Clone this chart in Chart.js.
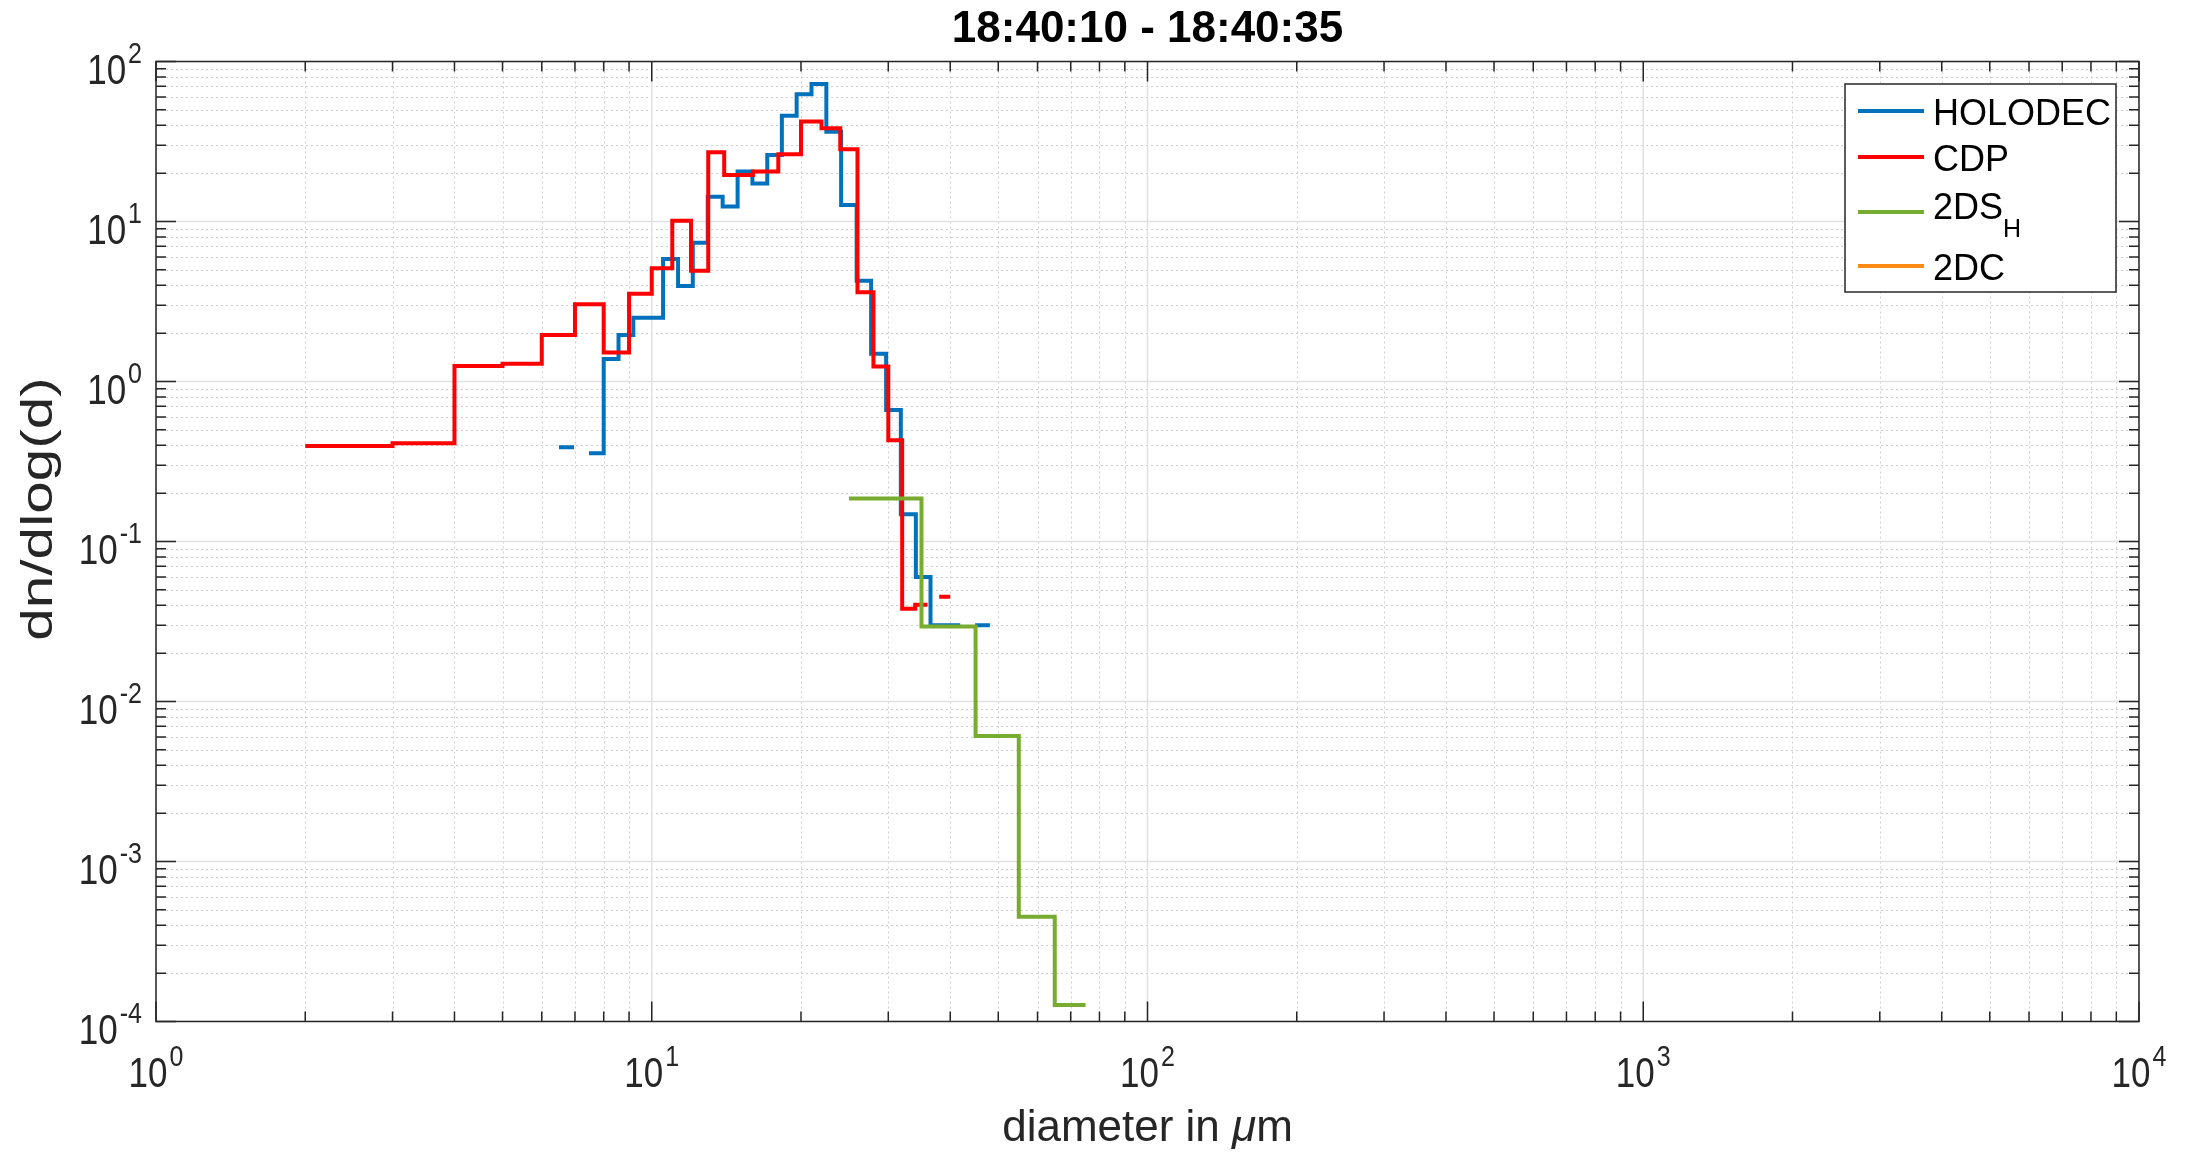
<!DOCTYPE html>
<html>
<head>
<meta charset="utf-8">
<script src="https://cdn.jsdelivr.net/npm/chart.js@4.4.1/dist/chart.umd.min.js"></script>
<style>
  html, body { margin: 0; padding: 0; background: #ffffff; }
  #wrap { position: relative; width: 2195px; height: 1152px; }
</style>
</head>
<body>
<div id="wrap"><canvas id="sizeDist" width="2195" height="1152"></canvas></div>
<script>
// Size distribution, 18:40:10 - 18:40:35
const titleText = '18:40:10 - 18:40:35';

// HOLODEC: bin edges (um) and dn/dlog(d) per bin (null = empty bin)
const holoEdges = [6.5, 6.97, 7.47, 8.0, 8.57, 9.18, 9.84, 10.54, 11.3, 12.1, 12.97, 13.9, 14.9, 15.96,
  17.1, 18.3, 19.6, 21.0, 22.5, 24.1, 25.9, 27.7, 29.7, 31.8, 34.1, 36.5, 39.1, 41.9, 44.9, 48.1];
const holoValues = [0.388, null, 0.356, 1.38, 1.95, 2.50, 2.50, 5.83, 3.95, 7.37, 14.3, 12.4, 20.5, 17.3,
  26.0, 45.8, 62.4, 72.3, 36.4, 12.7, 4.27, 1.49, 0.664, 0.148, 0.060, 0.030, 0.030, null, 0.030];

// CDP
const cdpEdges = [2, 3, 4, 5, 6, 7, 8, 9, 10, 11, 12, 13, 14, 16, 18, 20, 22, 24, 26, 28, 30, 32, 34, 36, 38, 40];
const cdpValues = [0.395, 0.411, 1.25, 1.29, 1.95, 3.04, 1.52, 3.53, 5.1, 10.1, 4.93, 27.1, 19.5, 20.5,
  26.3, 42.1, 38.2, 28.3, 3.61, 1.24, 0.43, 0.038, 0.0403, null, 0.0452];

// 2DS (horizontal channel)
const ds2Edges = [25, 35, 45, 55, 65, 75];
const ds2Values = [0.186, 0.0294, 0.00608, 0.000452, 0.000127];

// 2DC (no counts in this interval)
const dcEdges = [];
const dcValues = [];

// Axis decades
const xDecades = [0, 1, 2, 3, 4];
const yDecades = [-4, -3, -2, -1, 0, 1, 2];

const seriesNames = ['HOLODEC', 'CDP', '2DS', '2DC'];
const seriesColors = ['#0072bd', '#ff0000', '#77ac30', '#ff8a14'];

// Turn bins into a stepped outline: each bin is a flat segment, neighbours join vertically
function stepPoints(edges, values) {
  const pts = [];
  for (let i = 0; i < values.length; i++) {
    const v = values[i];
    if (v === null) { pts.push({ x: edges[i], y: null }); continue; }
    pts.push({ x: edges[i], y: v }, { x: edges[i + 1], y: v });
  }
  return pts;
}

const FONT = '"Liberation Sans", Arial, Helvetica, sans-serif';
const AXIS_COLOR = '#262626';
const TICK_STRETCH = 1.2;
const LINE_W = 4;

function tallText(ctx, text, x, y, stretch) {
  ctx.save();
  ctx.translate(x, y);
  ctx.scale(1, stretch);
  ctx.fillText(text, 0, 0);
  ctx.restore();
}

// "10" with a raised exponent
function drawPower(ctx, exp, x, baseY, align) {
  const base = '10';
  const sup = String(exp);
  ctx.font = '35px ' + FONT;
  const wb = ctx.measureText(base).width;
  ctx.font = '25px ' + FONT;
  const ws = ctx.measureText(sup).width;
  const total = wb + 2 + ws;
  const x0 = align === 'right' ? x - total : x - total / 2;
  ctx.fillStyle = AXIS_COLOR;
  ctx.textAlign = 'left';
  ctx.textBaseline = 'alphabetic';
  ctx.font = '35px ' + FONT;
  tallText(ctx, base, x0, baseY, TICK_STRETCH);
  ctx.font = '25px ' + FONT;
  tallText(ctx, sup, x0 + wb + 2, baseY - 21, TICK_STRETCH);
}

const axesBox = {
  id: 'axesBox',
  beforeDatasetsDraw(chart) {
    const { ctx, chartArea: a, scales: { x, y } } = chart;
    ctx.save();
    ctx.beginPath();
    ctx.rect(a.left, a.top, a.right - a.left, a.bottom - a.top);
    ctx.clip();
    // minor grid
    ctx.strokeStyle = '#cfcfcf';
    ctx.lineWidth = 1;
    ctx.setLineDash([2, 3]);
    for (const d of xDecades.slice(0, -1)) {
      for (let m = 2; m <= 9; m++) {
        const px = Math.round(x.getPixelForValue(m * Math.pow(10, d))) + 0.5;
        ctx.beginPath(); ctx.moveTo(px, a.top); ctx.lineTo(px, a.bottom); ctx.stroke();
      }
    }
    for (const d of yDecades.slice(0, -1)) {
      for (let m = 2; m <= 9; m++) {
        const py = Math.round(y.getPixelForValue(m * Math.pow(10, d))) + 0.5;
        ctx.beginPath(); ctx.moveTo(a.left, py); ctx.lineTo(a.right, py); ctx.stroke();
      }
    }
    // major grid
    ctx.setLineDash([]);
    ctx.strokeStyle = '#e1e1e1';
    ctx.lineWidth = 1.5;
    for (const d of xDecades) {
      const px = x.getPixelForValue(Math.pow(10, d));
      ctx.beginPath(); ctx.moveTo(px, a.top); ctx.lineTo(px, a.bottom); ctx.stroke();
    }
    for (const d of yDecades) {
      const py = y.getPixelForValue(Math.pow(10, d));
      ctx.beginPath(); ctx.moveTo(a.left, py); ctx.lineTo(a.right, py); ctx.stroke();
    }
    ctx.restore();
  },
  afterDatasetsDraw(chart) {
    const { ctx, chartArea: a, scales: { x, y } } = chart;
    ctx.save();
    // box and inward ticks on all four sides
    ctx.strokeStyle = AXIS_COLOR;
    ctx.lineWidth = 1.5;
    ctx.strokeRect(a.left, a.top, a.right - a.left, a.bottom - a.top);
    const major = 20, minor = 10;
    ctx.beginPath();
    for (let i = 0; i < xDecades.length; i++) {
      const d = xDecades[i];
      const px = x.getPixelForValue(Math.pow(10, d));
      ctx.moveTo(px, a.bottom); ctx.lineTo(px, a.bottom - major);
      ctx.moveTo(px, a.top); ctx.lineTo(px, a.top + major);
      if (i < xDecades.length - 1) {
        for (let m = 2; m <= 9; m++) {
          const q = x.getPixelForValue(m * Math.pow(10, d));
          ctx.moveTo(q, a.bottom); ctx.lineTo(q, a.bottom - minor);
          ctx.moveTo(q, a.top); ctx.lineTo(q, a.top + minor);
        }
      }
    }
    for (let i = 0; i < yDecades.length; i++) {
      const d = yDecades[i];
      const py = y.getPixelForValue(Math.pow(10, d));
      ctx.moveTo(a.left, py); ctx.lineTo(a.left + major, py);
      ctx.moveTo(a.right, py); ctx.lineTo(a.right - major, py);
      if (i < yDecades.length - 1) {
        for (let m = 2; m <= 9; m++) {
          const q = y.getPixelForValue(m * Math.pow(10, d));
          ctx.moveTo(a.left, q); ctx.lineTo(a.left + minor, q);
          ctx.moveTo(a.right, q); ctx.lineTo(a.right - minor, q);
        }
      }
    }
    ctx.stroke();

    // tick labels
    for (const d of xDecades) drawPower(ctx, d, x.getPixelForValue(Math.pow(10, d)), a.bottom + 65, 'center');
    for (const d of yDecades) drawPower(ctx, d, a.left - 14, y.getPixelForValue(Math.pow(10, d)) + 22.5, 'right');

    // axis titles
    ctx.fillStyle = AXIS_COLOR;
    ctx.textBaseline = 'alphabetic';
    ctx.font = '44px ' + FONT;
    const p1 = 'diameter in ', p3 = 'm';
    const w1 = ctx.measureText(p1).width, w3 = ctx.measureText(p3).width;
    ctx.font = 'italic 44px ' + FONT;
    const w2 = ctx.measureText('\u03bc').width;
    const sx = (a.left + a.right) / 2 - (w1 + w2 + w3) / 2;
    const by = a.bottom + 119;
    ctx.textAlign = 'left';
    ctx.font = '44px ' + FONT;
    ctx.fillText(p1, sx, by);
    ctx.font = 'italic 44px ' + FONT;
    ctx.fillText('\u03bc', sx + w1, by);
    ctx.font = '44px ' + FONT;
    ctx.fillText(p3, sx + w1 + w2, by);

    ctx.save();
    ctx.translate(52, 509);
    ctx.rotate(-Math.PI / 2);
    ctx.scale(1.33, 1);
    ctx.textAlign = 'center';
    ctx.fillText('dn/dlog(d)', 0, 0);
    ctx.restore();

    // title
    ctx.fillStyle = '#000000';
    ctx.font = 'bold 44px ' + FONT;
    ctx.textAlign = 'center';
    ctx.fillText(titleText, (a.left + a.right) / 2, 42);

    // legend
    const lx = 1845, ly = 84, lw = 271, lh = 208;
    ctx.fillStyle = '#ffffff';
    ctx.fillRect(lx, ly, lw, lh);
    ctx.strokeStyle = AXIS_COLOR;
    ctx.lineWidth = 1.5;
    ctx.strokeRect(lx, ly, lw, lh);
    const rows = [111, 157, 212, 266];
    ctx.textAlign = 'left';
    for (let i = 0; i < seriesNames.length; i++) {
      ctx.strokeStyle = seriesColors[i];
      ctx.lineWidth = LINE_W;
      ctx.beginPath();
      ctx.moveTo(1858, rows[i]); ctx.lineTo(1924, rows[i]);
      ctx.stroke();
      ctx.fillStyle = '#000000';
      ctx.font = '36px ' + FONT;
      if (seriesNames[i] === '2DS') {
        ctx.fillText('2DS', 1933, rows[i] + 7);
        const w = ctx.measureText('2DS').width;
        ctx.font = '25px ' + FONT;
        ctx.fillText('H', 1933 + w, rows[i] + 25);
      } else {
        ctx.fillText(seriesNames[i], 1933, rows[i] + 14);
      }
    }
    ctx.restore();
  }
};

const edgesList = [holoEdges, cdpEdges, ds2Edges, dcEdges];
const valuesList = [holoValues, cdpValues, ds2Values, dcValues];

new Chart(document.getElementById('sizeDist'), {
  type: 'line',
  data: {
    datasets: seriesNames.map((name, i) => ({
      label: name,
      data: stepPoints(edgesList[i], valuesList[i]),
      borderColor: seriesColors[i],
      backgroundColor: seriesColors[i],
      borderWidth: LINE_W,
      pointRadius: 0,
      fill: false,
      tension: 0,
      spanGaps: false,
      borderJoinStyle: 'miter',
      borderCapStyle: 'butt',
      order: seriesNames.length - i
    }))
  },
  options: {
    responsive: false,
    animation: false,
    devicePixelRatio: 1,
    layout: { padding: { left: 156, right: 56, top: 61.5, bottom: 130.5 } },
    scales: {
      x: { type: 'logarithmic', min: 1, max: 10000, display: false },
      y: { type: 'logarithmic', min: 1e-4, max: 100, display: false }
    },
    plugins: {
      legend: { display: false },
      tooltip: { enabled: false },
      title: { display: false }
    }
  },
  plugins: [axesBox]
});
</script>
</body>
</html>
